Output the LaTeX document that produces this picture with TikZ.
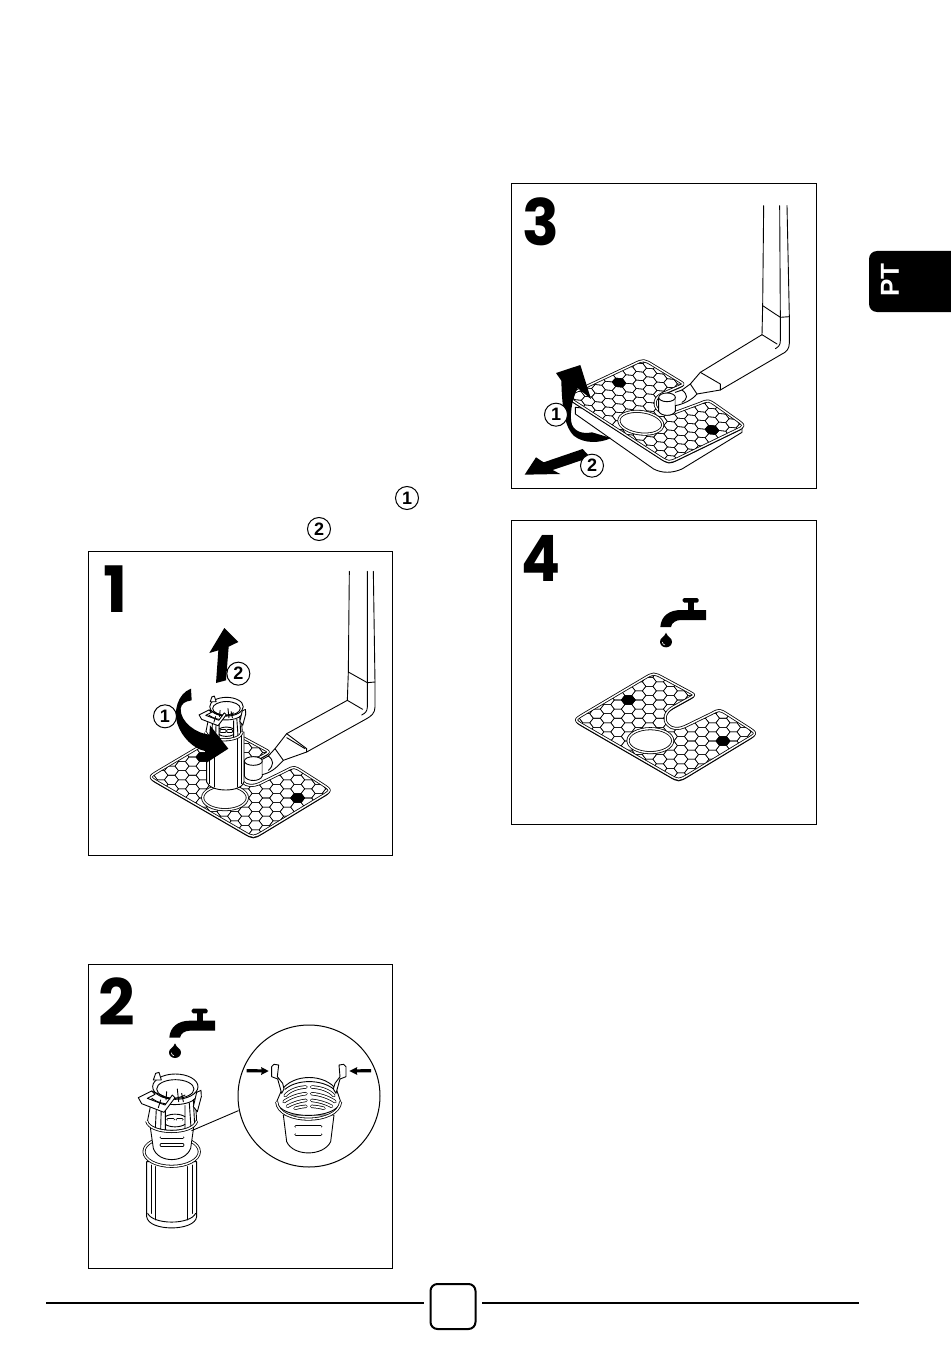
\documentclass[tikz,border=0pt]{standalone}
\usepackage{fontspec}
\usepackage{graphicx}
\setsansfont{Liberation Sans}
\newfontfamily\numfont{Poppins}
\tikzset{
 ln/.style={line width=.9pt,line join=round,line cap=round},
 thin ln/.style={line width=.55pt,line join=round,line cap=round},
 frame/.style={line width=1pt},
 bignum/.style={anchor=base west,inner sep=0pt,font=\numfont\bfseries\fontsize{64}{64}\selectfont},
 circnum/.style={circle,draw,line width=1pt,fill=white,inner sep=0pt,minimum size=23pt,font=\sffamily\bfseries\fontsize{18}{18}\selectfont},
 dbl/.style={line width=.8pt,double=white,double distance=1.4pt,line join=round},
}
\newcommand\trayshape{(216,582) -- (395,476) .. controls (425,458) and (425,458) .. (456,475) -- (536,518) .. controls (548,525) and (548,525) .. (536,532) -- (482,562) .. controls (458,576) and (452,600) .. (468,615) .. controls (480,628) and (500,628) .. (518,620) -- (598,581) .. controls (622,568) and (622,568) .. (646,583) -- (705.5,621) .. controls (735,640) and (735,640) .. (705,658) -- (530,764) .. controls (500,782) and (500,782) .. (470,764.5) -- (216,617.5) .. controls (186,600) and (186,600) .. (216,582) -- cycle}
\newcommand\tray{%
 \draw[ln,fill=white,shift={(0,5)}] \trayshape;
 \begin{scope}
  \clip \trayshape;
  \fill[white] (150,430) rectangle (760,800);
  \foreach \i in {0,...,18}{\foreach \j in {3,...,16}{
   \pgfmathsetmacro\cx{349+31.55*(\i-5)}
   \pgfmathsetmacro\cy{348.7+27.33*\j+13.665*(1-mod(\i,2))}
   \draw[thin ln,shift={(\cx,\cy)}] (-21,0) -- (-10.5,-13.67) -- (10.5,-13.67) -- (21,0) -- (10.5,13.67) -- (-10.5,13.67) -- cycle;
  }}
 \end{scope}
 \draw[dbl] \trayshape;
 \draw[dbl,fill=white] (415,662) ellipse [x radius=67,y radius=36];
 \fill (327,540) -- (338.5,526.3) -- (359.5,526.3) -- (371,540) -- (359.5,553.7) -- (338.5,553.7) -- cycle;
 \fill (611,663) -- (622.5,649.3) -- (643.5,649.3) -- (655,663) -- (643.5,676.7) -- (622.5,676.7) -- cycle;
}
\newcommand\faucet{%
 \fill[rounded corners=1.5pt] (305,131) rectangle (353,145);
 \fill (322,144) rectangle (338,170);
 \fill (375,167) -- (300,167) .. controls (265,167) and (240,185) .. (238,218) -- (270,218) .. controls (272,205) and (285,197) .. (300,197) -- (375,197) -- cycle;
 \fill (255,235) .. controls (250,250) and (237,250) .. (237,262) .. controls (237,272) and (245,279) .. (255,279) .. controls (265,279) and (273,272) .. (273,262) .. controls (273,250) and (260,250) .. (255,235) -- cycle;
 \draw[white,line width=.6pt] (244,263) .. controls (244,268) and (248,272) .. (252,272);
}
\newcommand\band[1]{\draw[line width=3.4pt,line cap=round] #1; \draw[white,line width=1.9pt,line cap=round] #1;}
% upper part of the filter, drawn in the coordinates of panel 2
\newcommand\filtertop{%
 \draw[ln,fill=white] (256,365) ellipse [x radius=68,y radius=38];
 \draw[ln] (256,372) ellipse [x radius=56,y radius=28];
 \draw[ln,fill=white] (190,345) -- (197,325) -- (207,322) -- (214,345) -- cycle;
 \draw[ln,fill=white] (172,470) -- (186,400) .. controls (215,425) and (295,425) .. (316,400) -- (320,470) .. controls (300,505) and (190,505) .. cycle;
 \draw[ln] (200,410) -- (196,490) (214,420) -- (212,494) (226,424) -- (226,496) (285,422) -- (285,495) (298,415) -- (303,488) (310,405) -- (314,480);
 \draw[ln] (226,455) .. controls (240,445) and (270,445) .. (285,455) (226,478) .. controls (240,488) and (270,488) .. (285,478);
 \band{(234,464) -- (250,464)} \band{(262,464) -- (276,464)}
 \draw[ln] (212,392) .. controls (230,404) and (265,402) .. (285,390);
 \draw[ln] (230,380) -- (228,405) (262,372) -- (266,410) (275,385) -- (280,410);
 \draw[ln,fill=white] (145,398) -- (185,378) -- (195,388) -- (172,400) -- (225,420) -- (247,390) -- (255,398) -- (222,442) -- (155,416) -- cycle;
 \draw[ln] (185,378) -- (240,402) (205,428) -- (212,405);
 \draw[ln,fill=white] (310,425) -- (320,382) -- (333,376) -- (334,395) -- (322,440) -- cycle;
 \draw[dbl] (170,468) .. controls (180,510) and (310,510) .. (320,468);
}
\begin{document}
\begin{tikzpicture}[x=1pt,y=-1pt]
\useasboundingbox (0,0) rectangle (950,1348);
\fill[white] (0,0) rectangle (950,1348);

% ---------- frames
\draw[frame] (88.5,551.5) rectangle (392,855);
\draw[frame] (88.5,964.5) rectangle (392,1268);
\draw[frame] (511.5,183.5) rectangle (816,488);
\draw[frame] (511.5,520) rectangle (816,824.5);

% ---------- big numbers
\node[bignum] (n1) at (103,612) {1};
\node[bignum] (n2) at (98.5,1025) {2};
\node[bignum] (n3) at (522,245) {\scalebox{.95}[1]{3}};
\node[bignum] (n4) at (521,581) {\scalebox{.9}[1]{4}};

% ---------- panel 1
\begin{scope}[shift={(90,552)},scale=1/3]
 \begin{scope}[shift={(-10,75)}]\tray\end{scope}
 % filter body
 \draw[ln,fill=white] (350,540) -- (350,690) .. controls (360,722) and (455,722) .. (462,690) -- (462,540) -- cycle;
 \draw[thin ln] (358,550) -- (358,695) (372,560) -- (372,705) (442,560) -- (442,705) (455,550) -- (455,695);
 \begin{scope}[shift={(220,194)},scale=.74]\filtertop\end{scope}
 % knob
 \draw[ln,fill=white] (463,627) -- (463,672) .. controls (470,690) and (510,690) .. (517,672) -- (517,627) -- cycle;
 % pipe
 \fill[white] (778,58) -- (775,360) -- (772,445) -- (590,545) -- (555,590) -- (535,615) -- (517,620) -- (517,670) -- (545,660) -- (580,625) -- (650,600) -- (830,500) -- (855,470) -- (855,390) -- (850,58) -- cycle;
 \draw[ln] (778,58) -- (775,360) -- (772,445) -- (590,545) -- (555,590) -- (535,612) -- (517,622);
 \draw[ln] (832,58) -- (832,392) -- (832,465) .. controls (832,478) and (825,484) .. (815,489);
 \draw[ln] (850,58) -- (855,392) -- (855,465) .. controls (855,482) and (845,492) .. (830,500) -- (650,600) -- (580,625) .. controls (565,640) and (550,660) .. (517,668);
 \draw[ln] (775,360) -- (832,392) -- (855,390);
 \draw[ln] (772,445) -- (818,472);
 \draw[ln] (590,545) -- (650,590) -- (650,600);
 \draw[ln] (590,557) -- (645,590) (555,590) -- (580,625);
 \draw[ln] (535,612) .. controls (552,625) and (552,640) .. (535,655);
 \draw[ln,fill=white] (490,627) ellipse [x radius=27,y radius=13];
 % arrow 1
 \fill (303,410) .. controls (262,425) and (250,480) .. (262,515) .. controls (275,555) and (310,590) .. (345,597) -- (350,632) -- (415,590) -- (360,520) -- (358,548) .. controls (320,545) and (270,510) .. (272,470) .. controls (274,455) and (285,448) .. (305,445) -- cycle;
 % arrow 2
 \fill (378,393) -- (408,385) -- (416,284) -- (445,270) -- (403,228) -- (358,303) -- (385,295) -- cycle;
 \node[circnum] (a1) at (225,493) {1};
 \node[circnum] (a2) at (445,365) {2};
\end{scope}

% ---------- panel 2
\begin{scope}[shift={(90,965)},scale=1/3]
 \faucet
 % tube
 \draw[ln,fill=white] (170,590) -- (170,755) .. controls (175,800) and (315,800) .. (320,755) -- (320,590) -- cycle;
 \draw[ln] (183,600) -- (183,745) (197,605) -- (197,765) (293,605) -- (293,765) (306,600) -- (306,745);
 \draw[ln] (173,745) .. controls (190,780) and (300,780) .. (317,745);
 % flange
 \draw[dbl,fill=white] (245,560) ellipse [x radius=83,y radius=44];
 % cup
 \draw[ln,fill=white] (180,480) -- (190,550) .. controls (205,595) and (285,595) .. (302,550) -- (312,480) -- cycle;
 \band{(214,517) -- (278,517)}
 \band{(214,540) -- (278,540)}
 \filtertop
 % link to the magnifier
 \draw[ln] (305,497) -- (445,437);
 % magnifier
 \draw[line width=1pt,fill=white] (657,393) circle [radius=213];
 \draw[ln,fill=white] (580,450) -- (590,530) .. controls (610,575) and (700,575) .. (722,530) -- (732,450) -- cycle;
 \band{(618,485) -- (692,485)}
 \band{(618,508) -- (692,508)}
 % ribs and rim
 \draw[ln,fill=white] (575,375) .. controls (610,325) and (705,325) .. (740,375) -- (752,410) .. controls (740,465) and (570,465) .. (560,410) -- cycle;
 \draw[ln] (585,373) .. controls (620,342) and (695,342) .. (732,373);
 \band{(585,392) .. controls (600,375) and (625,367) .. (648,366)}
 \band{(582,410) .. controls (600,397) and (625,388) .. (648,386)}
 \band{(592,424) .. controls (610,414) and (630,408) .. (648,406)}
 \band{(615,430) .. controls (625,427) and (635,425) .. (648,424)}
 \band{(732,392) .. controls (717,375) and (690,367) .. (665,366)}
 \band{(735,410) .. controls (717,397) and (690,388) .. (665,386)}
 \band{(725,424) .. controls (707,414) and (685,408) .. (665,406)}
 \band{(702,430) .. controls (692,427) and (680,425) .. (665,424)}
 \draw[dbl] (560,410) .. controls (565,480) and (745,480) .. (752,410);
 % arms
 \draw[ln,fill=white] (575,385) -- (563,342) -- (545,335) -- (545,305) -- (552,298) -- (566,300) -- (562,335) -- (578,355) -- (582,372) -- cycle;
 \draw[ln,fill=white] (738,385) -- (750,342) -- (768,335) -- (768,305) -- (761,298) -- (747,300) -- (750,335) -- (735,355) -- (730,372) -- cycle;
 % pressing arrows
 \fill (470,312) -- (515,313) -- (513,306) -- (536,318) -- (513,330) -- (515,322) -- (470,322) -- cycle;
 \fill (843,312) -- (800,313) -- (802,306) -- (778,318) -- (802,330) -- (800,322) -- (843,322) -- cycle;
\end{scope}

% ---------- panel 3
\begin{scope}[shift={(512,184)},scale=1/3]
 % lifted tray side
 \draw[ln,fill=white] (190,670) -- (190,690) -- (425,855) .. controls (450,868) and (480,868) .. (510,855) -- (690,745) -- (690,720) -- cycle;
 \begin{scope}[shift={(-23.6,57.6)},cm={.98,-.094,-.005,.936,(0,0)}]\tray\end{scope}
 % knob
 \draw[ln,fill=white] (440,640) -- (440,682) .. controls (447,698) and (483,698) .. (490,682) -- (490,640) -- cycle;
 % pipe
 \fill[white] (755,65) -- (752,365) -- (750,450) -- (565,565) -- (535,600) -- (490,625) -- (490,665) -- (530,640) -- (555,630) -- (625,618) -- (810,510) -- (832,480) -- (832,398) -- (825,65) -- cycle;
 \draw[ln] (755,65) -- (752,365) -- (750,452) -- (565,565) -- (535,600) -- (510,618) -- (490,625);
 \draw[ln] (803,65) -- (805,400) -- (805,470) .. controls (805,483) and (800,488) .. (790,494);
 \draw[ln] (825,65) -- (832,398) -- (832,478) .. controls (832,495) and (822,505) .. (810,510) -- (625,618) -- (555,630) .. controls (540,648) and (515,660) .. (490,665);
 \draw[ln] (752,365) -- (805,400) -- (832,398);
 \draw[ln] (750,452) -- (795,480);
 \draw[ln] (565,565) -- (625,600) -- (625,618);
 \draw[ln] (535,600) -- (555,630);
 \draw[ln] (510,618) .. controls (528,632) and (528,645) .. (510,655);
 \draw[ln,fill=white] (465,640) ellipse [x radius=25,y radius=13];
 % arrow 1
 \fill (297,762) .. controls (265,778) and (215,780) .. (185,755) .. controls (160,730) and (150,680) .. (148,590) -- (132,567) -- (205,543) -- (237,645) -- (197,612) .. controls (178,650) and (172,700) .. (180,722) .. controls (190,745) and (215,750) .. (240,745) -- cycle;
 % arrow 2
 \fill (212,795) -- (95,835) -- (72,820) -- (38,872) -- (145,870) -- (122,858) -- (235,820) -- cycle;
 \node[circnum] (b1) at (132,692) {1};
 \node[circnum] (b2) at (240,845) {2};
\end{scope}

% ---------- panel 4
\begin{scope}[shift={(512,520)},scale=1/3]
 \begin{scope}[shift={(207,103)}]\faucet\end{scope}
 \tray
\end{scope}

% ---------- circled numbers above panel 1
\node[circnum] (c1) at (407,498) {1};
\node[circnum] (c2) at (319,529) {2};

% ---------- language tab
\fill[rounded corners=8pt] (960,251) -- (869,251) -- (869,312) -- (960,312) -- cycle;
\node[white,rotate=90,inner sep=0pt,font=\sffamily\bfseries\fontsize{26}{26}\selectfont] (pt) at (890,280) {PT};

% ---------- footer
\node[draw,line width=2pt,rounded corners=7pt,minimum width=45pt,minimum height=45pt,inner sep=0pt] (page) at (453,1306.5) {};
\coordinate (rl) at (46,1303);
\coordinate (rla) at (424,1303);
\coordinate (rr) at (859,1303);
\coordinate (rra) at (482,1303);
\draw[line width=1.4pt] (rl) -- (rla);
\draw[line width=1.4pt] (rra) -- (rr);
\end{tikzpicture}
\end{document}
